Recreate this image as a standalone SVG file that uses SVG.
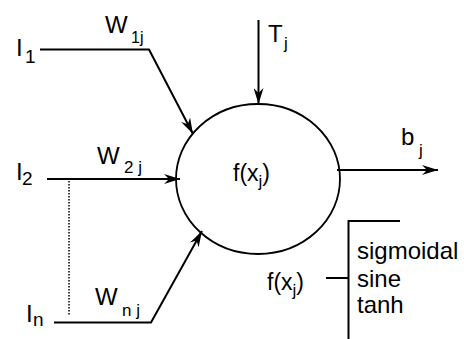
<svg xmlns="http://www.w3.org/2000/svg" width="464" height="339" viewBox="0 0 464 339">
<style>
text{font-family:"Liberation Sans",Arial,sans-serif;fill:#000}
.m{font-size:24px}
.s{font-size:17px}
.l{font-size:23px}
.ln{fill:none;stroke:#000;stroke-width:2}
</style>
<defs>
<marker id="ah" viewBox="0 0 16 10" refX="16" refY="5" markerWidth="16" markerHeight="10" markerUnits="userSpaceOnUse" orient="auto">
<path d="M0,0 L16,5 L0,10 L5,5 z" fill="#000"/>
</marker>
</defs>
<rect width="464" height="339" fill="#fff"/>
<g id="connectors">
<polyline class="ln" points="40,49.5 149,49.5 193,134" marker-end="url(#ah)"/>
<line class="ln" x1="47" y1="179" x2="180" y2="179" marker-end="url(#ah)"/>
<polyline class="ln" points="54,322.5 151,322.5 202,231" marker-end="url(#ah)"/>
<line class="ln" x1="258.5" y1="20" x2="258.5" y2="104" marker-end="url(#ah)"/>
<line class="ln" x1="337" y1="170" x2="438" y2="170" marker-end="url(#ah)"/>
<line x1="69" y1="181" x2="69" y2="316" stroke="#000" stroke-width="1.5" stroke-dasharray="1.5 1.5"/>
</g>
<g id="neuron">
<ellipse cx="258" cy="179" rx="82" ry="75" fill="none" stroke="#000" stroke-width="1.8"/>
<text x="233" y="181" class="l">f(x<tspan class="s" dy="6">j</tspan><tspan dy="-6">)</tspan></text>
</g>
<g id="input1">
<text x="16" y="56" class="m">I</text><text x="25" y="63" font-size="19">1</text>
<text x="105" y="33" class="m">W</text><text x="131" y="43" font-size="16">1j</text>
</g>
<g id="input2">
<text x="16" y="180" class="m">I</text><text x="22" y="185" font-size="19">2</text>
<text x="97" y="164" class="m">W</text><text x="124" y="173" font-size="17">2 j</text>
</g>
<g id="inputn">
<text x="26" y="322" class="m">I</text><text x="33" y="326" font-size="19">n</text>
<text x="95" y="305" class="m">W</text><text x="122" y="316" font-size="17">n j</text>
</g>
<g id="threshold">
<text x="268" y="42" class="m">T</text><text x="284" y="49" class="s">j</text>
</g>
<g id="output">
<text x="401" y="145" class="m">b</text><text x="419" y="156" class="s">j</text>
</g>
<g id="functions">
<polyline class="ln" points="400,221 348.5,221 348.5,339" stroke-width="1.8"/>
<line class="ln" x1="326" y1="278" x2="348.5" y2="278" stroke-width="1.8"/>
<text x="267" y="290" class="l">f(x<tspan class="s" dy="6">j</tspan><tspan dy="-6">)</tspan></text>
<text x="357" y="259" font-size="24">sigmoidal</text>
<text x="357" y="287" font-size="24">sine</text>
<text x="357" y="313" font-size="24">tanh</text>
</g>
</svg>
